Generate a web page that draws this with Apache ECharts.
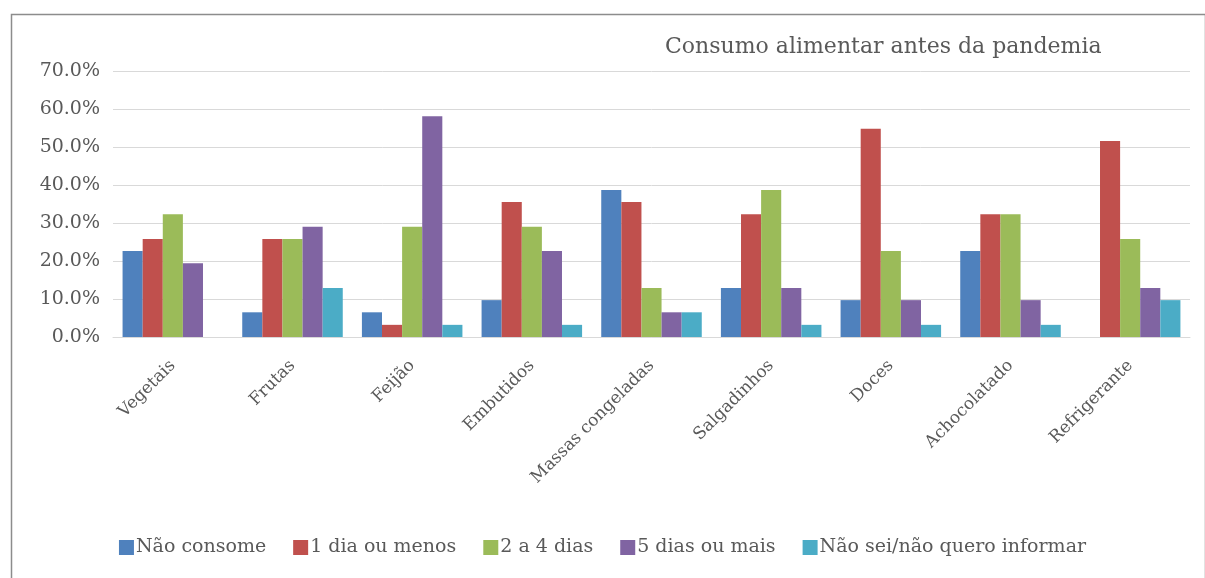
<!DOCTYPE html>
<html><head><meta charset="utf-8">
<script src="https://cdn.jsdelivr.net/npm/echarts@6/dist/echarts.min.js"></script>
<style>html,body{margin:0;padding:0;background:#fff}#c{width:1205px;height:578px}</style>
</head><body><div id="c"></div>
<script>
const categories = ['Vegetais','Frutas','Feijão','Embutidos','Massas congeladas','Salgadinhos','Doces','Achocolatado','Refrigerante'];
const seriesNames = ['Não consome','1 dia ou menos','2 a 4 dias','5 dias ou mais','Não sei/não quero informar'];
const naoConsome   = [22.6, 6.5, 6.5, 9.7, 38.7, 12.9, 9.7, 22.6, 0];
const umDiaOuMenos = [25.8, 25.8, 3.2, 35.5, 35.5, 32.3, 54.8, 32.3, 51.6];
const doisAQuatro  = [32.3, 25.8, 29.0, 29.0, 12.9, 38.7, 22.6, 32.3, 25.8];
const cincoOuMais  = [19.4, 29.0, 58.1, 22.6, 6.5, 12.9, 9.7, 9.7, 12.9];
const naoSei       = [0, 12.9, 3.2, 3.2, 6.5, 3.2, 3.2, 3.2, 9.7];
const yTicks = [0,10,20,30,40,50,60,70];
const colors = ['#4F81BD','#C0504D','#9BBB59','#8064A2','#4BACC6'];
const values = [naoConsome, umDiaOuMenos, doisAQuatro, cincoOuMais, naoSei];
const font = "'DejaVu Serif'";
const chart = echarts.init(document.getElementById('c'));
chart.setOption({
  animation:false,
  color: colors,
  graphic:[{type:'rect', left:9, top:12, shape:{width:1194, height:600}, style:{fill:'none', stroke:'#8c8c8c', lineWidth:1.5}, silent:true}],
  title:{text:'Consumo alimentar antes da pandemia', left:660, top:31, textStyle:{fontFamily:font, fontWeight:'normal', fontSize:22, color:'#595959'}},
  legend:{bottom:16, left:'center', icon:'rect', itemWidth:15, itemHeight:15, itemGap:27, textStyle:{fontFamily:font, fontSize:19, color:'#595959', padding:[0,0,0,-3]}, data:seriesNames},
  grid:{left:113, right:15, top:71, bottom:241, containLabel:false},
  xAxis:{type:'category', data:categories, axisLine:{lineStyle:{color:'#D9D9D9'}}, axisTick:{show:false},
    axisLabel:{rotate:45, interval:0, fontFamily:font, fontSize:17, color:'#595959', margin:26}},
  yAxis:{type:'value', min:yTicks[0], max:yTicks[yTicks.length-1], interval:10,
    axisLabel:{formatter:v=>v.toFixed(1)+'%', fontFamily:font, fontSize:19, color:'#595959', margin:13}},
  series: seriesNames.map((n,i)=>({name:n, type:'bar', data:values[i], barGap:'0%', barCategoryGap:'16%'}))
});
chart.setOption({yAxis:{splitLine:{lineStyle:{color:'#D9D9D9'}}, axisLine:{show:false}}});
</script></body></html>
